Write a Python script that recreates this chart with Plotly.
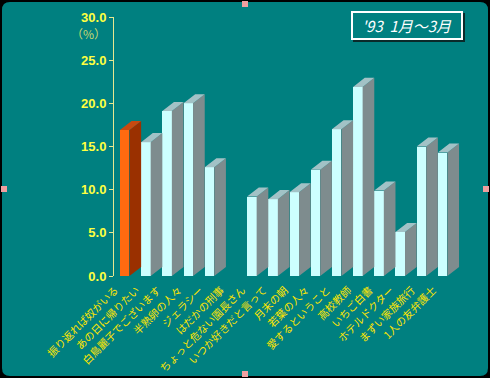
import plotly.graph_objects as go

# ---------------- data ----------------
categories = [
    "振り返れば奴がいる", "あの日に帰りたい", "白鳥麗子でございます", "半熟卵の人々",
    "ジェラシー", "はだかの刑事", "ちょっと危ない園長さん", "いつか好きだと言って",
    "月末の朝", "若葉の人々", "愛するということ", "高校教師",
    "いちご白書", "ホテルドクター", "まずい家族旅行", "1人の友弁護士",
]
values = [16.9, 15.5, 19.1, 20.0, 12.6, None, 9.2, 8.9, 9.7, 12.3, 17.0, 21.9, 9.9, 5.1, 15.0, 14.3]
highlight = [True] + [False] * 15
y_ticks = [0, 5, 10, 15, 20, 25, 30]
title_text = "'93  1月～3月"
unit_text = "（%）"

# ---------------- style ----------------
TEAL = "#008080"
W = 0.45      # front face width (slot units)
DX = 0.55     # depth offset x (slot units)
DY = 1.05     # depth offset y (value units)
FRONT = {True: "#FF6A10", False: "#CCFFFF"}
SIDE = {True: "#9A3000", False: "#7E8C8E"}
TOP = {True: "#C84A10", False: "#A2C2C6"}

slots = list(range(len(categories)))

fig = go.Figure()

# side and top faces as polygons derived from the data
for hl in (False, True):
    sx, sy, tx, ty = [], [], [], []
    for i, v in zip(slots, values):
        if v is None or highlight[i] != hl:
            continue
        x0 = i - 0.5
        x1 = x0 + W
        sx += [x1, x1 + DX, x1 + DX, x1, x1, None]
        sy += [0, DY, v + DY, v, 0, None]
        tx += [x0, x1, x1 + DX, x0 + DX, x0, None]
        ty += [v, v, v + DY, v + DY, v, None]
    fig.add_trace(go.Scatter(x=sx, y=sy, mode="lines", fill="toself", fillcolor=SIDE[hl],
                             line=dict(width=0, color=SIDE[hl]), hoverinfo="skip", showlegend=False))
    fig.add_trace(go.Scatter(x=tx, y=ty, mode="lines", fill="toself", fillcolor=TOP[hl],
                             line=dict(width=0, color=TOP[hl]), hoverinfo="skip", showlegend=False))

# front faces
fig.add_trace(go.Bar(
    x=[i - 0.5 + W / 2 for i in slots], y=values, width=W,
    marker=dict(color=[FRONT[h] for h in highlight], line=dict(width=0)),
    showlegend=False,
))

# ---------------- layout helpers ----------------
L, R, T, B = 114, 25, 17, 102
FW, FH = 490, 378
PW, PH = FW - L - R, FH - T - B


def px(x):
    return (x - L) / PW


def py(y):
    return (FH - B - y) / PH


shapes = []
# teal rounded panel over black paper
x0p, x1p, y0p, y1p, r = px(2), px(488), py(2), py(376), 8 / PW
rr = 8 / PH
path = (f"M {x0p + r},{y0p} L {x1p - r},{y0p} Q {x1p},{y0p} {x1p},{y0p - rr} "
        f"L {x1p},{y1p + rr} Q {x1p},{y1p} {x1p - r},{y1p} L {x0p + r},{y1p} "
        f"Q {x0p},{y1p} {x0p},{y1p + rr} L {x0p},{y0p - rr} Q {x0p},{y0p} {x0p + r},{y0p} Z")
shapes.append(dict(type="path", xref="paper", yref="paper", path=path,
                   fillcolor=TEAL, line=dict(width=0), layer="below"))
# selection handles
for cx, cy in [(245, 4), (4, 189), (486, 189), (245, 374)]:
    shapes.append(dict(type="rect", xref="paper", yref="paper",
                       x0=px(cx - 3), x1=px(cx + 3), y0=py(cy - 3), y1=py(cy + 3),
                       fillcolor="#F0A0A0", line=dict(width=0)))

annotations = [
    dict(text=unit_text, xref="paper", yref="paper", x=px(88), y=py(33), showarrow=False,
         xanchor="center", yanchor="middle",
         font=dict(family="Noto Sans CJK JP", size=12, color="#C8D870")),
    # shadow box
    dict(text=" ", xref="paper", yref="paper", x=px(409), y=py(27), showarrow=False,
         xanchor="center", yanchor="middle",
         width=106, height=23, bgcolor="#0A2A2A", borderwidth=2, bordercolor="#0A2A2A"),
    dict(text="<i>" + title_text + "</i>", xref="paper", yref="paper", x=px(407), y=py(25),
         xanchor="center", yanchor="middle",
         showarrow=False, width=106, height=23, bgcolor=TEAL, borderwidth=2, bordercolor="#FFFFFF",
         font=dict(family="Noto Sans CJK JP", size=15, color="#FFFFFF")),
]

fig.update_layout(
    width=FW, height=FH,
    margin=dict(l=L, r=R, t=T, b=B, pad=0, autoexpand=False),
    paper_bgcolor="#000000",
    plot_bgcolor="rgba(0,0,0,0)",
    bargap=0,
    shapes=shapes,
    annotations=annotations,
    xaxis=dict(
        range=[-0.78, 15.78], tickmode="array",
        tickvals=[i - 0.72 for i in slots], ticktext=categories,
        tickangle=-45, showgrid=False, zeroline=False, showline=False, ticks="",
        ticklabelstandoff=5, automargin=False,
        tickfont=dict(family="Noto Sans CJK JP", size=10.5, color="#FFE600"),
    ),
    yaxis=dict(
        range=[0, 30], tickmode="array", tickvals=y_ticks, tickformat=".1f",
        showgrid=False, zeroline=False, showline=True, linecolor="#E8E890", linewidth=1,
        ticks="outside", ticklen=4, tickcolor="#E8E890", automargin=False,
        tickfont=dict(family="Liberation Sans", size=13, color="#FFFF40", weight="bold"),
    ),
)

fig.write_html(
    "out.html",
    config={"displayModeBar": False},
    post_script="document.body.style.margin='0';document.body.style.overflow='hidden';",
)
